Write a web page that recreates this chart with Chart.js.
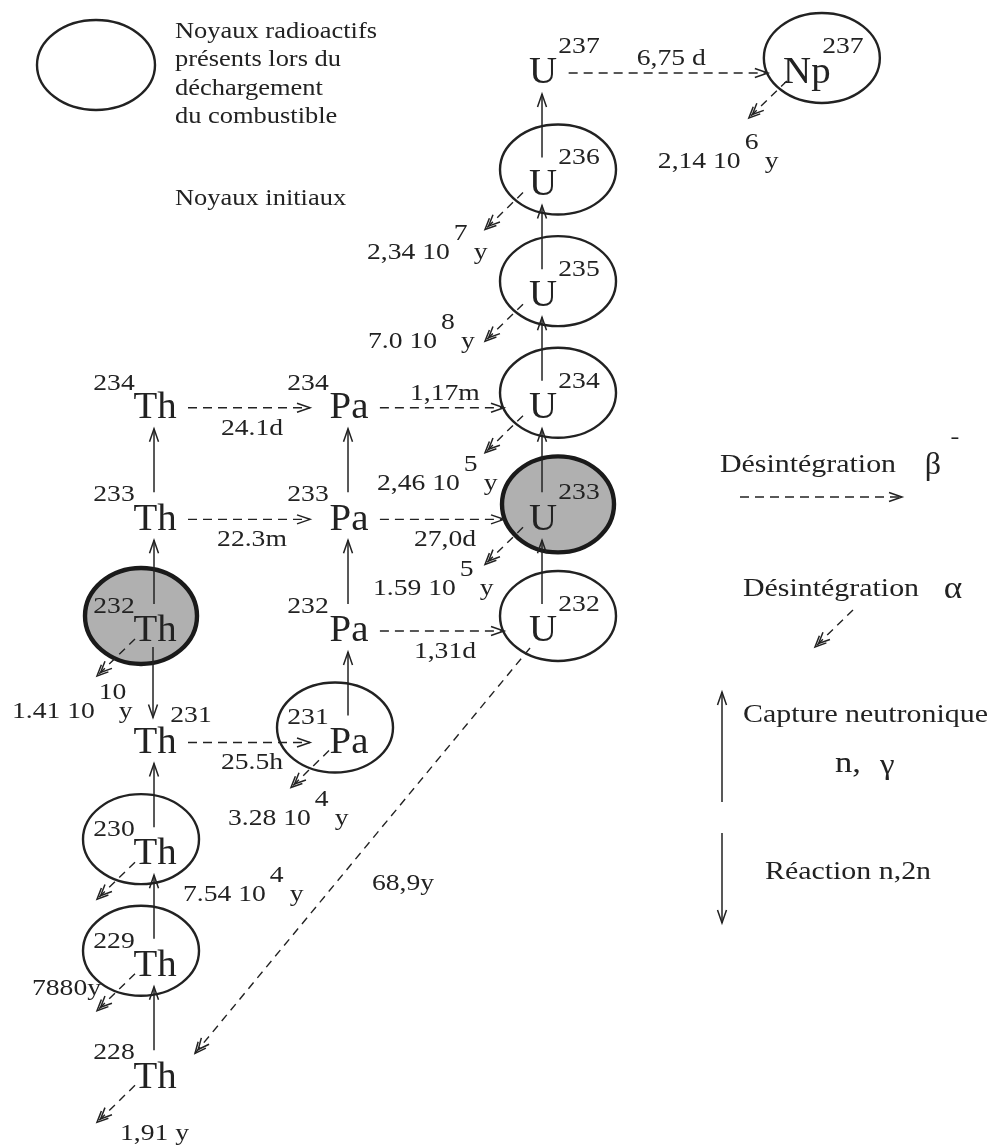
<!DOCTYPE html>
<html>
<head>
<meta charset="utf-8">
<script src="https://cdn.jsdelivr.net/npm/chart.js@4.4.1/dist/chart.umd.min.js"></script>
<style>
  html, body { margin: 0; padding: 0; background: #fff; }
  #wrap { width: 996px; height: 1147px; }
</style>
</head>
<body>
<div id="wrap"><canvas id="chain" width="996" height="1147"></canvas></div>
<script>
// one column per element (Np is drawn off the grid, to the right)
const elements = ['Th', 'Pa', 'U', 'Np'];
const elementColumn = [0, 1, 2, 3.36];

// nuclides in the chain
const nuclideElement = ['Th','Th','Th','Th','Th','Th','Th','Pa','Pa','Pa','Pa','U','U','U','U','U','U','Np'];
const nuclideMass    = [228, 229, 230, 231, 232, 233, 234, 231, 232, 233, 234, 232, 233, 234, 235, 236, 237, 237];

// radioactive nuclei present at fuel discharge (circled), initial nuclei (shaded)
const circled = ['Th229','Th230','Th232','Pa231','U232','U233','U234','U235','U236','Np237'];
const initial = ['Th232','U233'];

// (n,gamma) captures and (n,2n)
const captureFrom = ['Th228','Th229','Th230','Th232','Th233','Pa231','Pa232','Pa233','U232','U233','U234','U235','U236'];
const captureTo   = ['Th229','Th230','Th231','Th233','Th234','Pa232','Pa233','Pa234','U233','U234','U235','U236','U237'];
const n2nFrom = ['Th232'];
const n2nTo   = ['Th231'];

// beta- decays
const betaFrom = ['Th234','Th233','Th231','Pa234','Pa233','Pa232','U237'];
const betaTo   = ['Pa234','Pa233','Pa231','U234','U233','U232','Np237'];
const betaHalfLife = ['24.1d','22.3m','25.5h','1,17m','27,0d','1,31d','6,75 d'];

// alpha decays
const alphaFrom = ['Np237','U236','U235','U234','U233','U232','Th232','Pa231','Th230','Th229','Th228'];
const alphaHalfLife = ['2,14 10^6 y','2,34 10^7 y','7.0 10^8 y','2,46 10^5 y','1.59 10^5 y','68,9y',
                       '1.41 10^10 y','3.28 10^4 y','7.54 10^4 y','7880y','1,91 y'];

// ---- layout ----
const INK = '#222';
const SERIF = '"Liberation Serif", "Times New Roman", serif';
const SX = 1.15;                        // the scanned type is a bit wide
const supRight = ['U', 'Np'];
const supRightExtra = ['Th231'];
const betaLabelAbove = ['Pa234', 'U237'];
const alphaToDaughter = ['U232'];       // only this one is drawn down to its daughter
const alphaLabelOffset = {
  Np237: [-149, 89], U236: [-176, 69], U235: [-175, 46], U234: [-166, 76], U233: [-170, 70],
  U232: [-171, 253], Th232: [-143, 81], Pa231: [-121, 77], Th230: [28, 41], Th229: [-123, 23],
  Th228: [-35, 57]
};

const ids = nuclideElement.map((e, i) => e + nuclideMass[i]);
const colOf = e => elementColumn[elements.indexOf(e)];

function txt(ctx, s, x, y, size, align, sx) {
  sx = sx || 1;
  ctx.save();
  ctx.font = size + 'px ' + SERIF;
  ctx.fillStyle = INK;
  ctx.textAlign = 'left';
  ctx.textBaseline = 'alphabetic';
  const w = ctx.measureText(s).width * sx;
  const left = align === 'center' ? x - w / 2 : (align === 'right' ? x - w : x);
  ctx.translate(left, y + size * 0.33);
  ctx.scale(sx, 1);
  ctx.fillText(s, 0, 0);
  ctx.restore();
  return left + w;
}

function seg(ctx, x1, y1, x2, y2, dash, w) {
  ctx.save();
  ctx.strokeStyle = INK;
  ctx.lineWidth = w || 1.5;
  ctx.setLineDash(dash || []);
  ctx.beginPath();
  ctx.moveTo(x1, y1);
  ctx.lineTo(x2, y2);
  ctx.stroke();
  ctx.restore();
}

function chevron(ctx, x1, y1, x2, y2, len, half, back) {
  const a = Math.atan2(y2 - y1, x2 - x1);
  const tx = x2 - Math.cos(a) * back, ty = y2 - Math.sin(a) * back;
  const bx = tx - Math.cos(a) * len, by = ty - Math.sin(a) * len;
  const nx = -Math.sin(a) * half, ny = Math.cos(a) * half;
  ctx.save();
  ctx.strokeStyle = INK;
  ctx.lineWidth = 1.5;
  ctx.beginPath();
  ctx.moveTo(bx + nx, by + ny);
  ctx.lineTo(tx, ty);
  ctx.lineTo(bx - nx, by - ny);
  ctx.stroke();
  ctx.restore();
}

function solidArrow(ctx, x1, y1, x2, y2) {
  seg(ctx, x1, y1, x2, y2, [], 1.5);
  chevron(ctx, x1, y1, x2, y2, 13, 4.5, 0);
}
function betaArrow(ctx, x1, y1, x2, y2) {
  seg(ctx, x1, y1, x2, y2, [9, 6], 1.4);
  chevron(ctx, x1, y1, x2, y2, 13, 4.5, 0);
}
function alphaArrow(ctx, x1, y1, x2, y2) {
  seg(ctx, x1, y1, x2, y2, [8, 6], 1.4);
  chevron(ctx, x1, y1, x2, y2, 11, 5, 0);
  chevron(ctx, x1, y1, x2, y2, 11, 5, 5);
}

function halfLifeLabel(ctx, s, x, y) {
  const m = s.match(/^(.*10)\^(\d+)\s*(y)$/);
  if (!m) { txt(ctx, s, x, y, 24, 'left', SX); return; }
  const r = txt(ctx, m[1], x, y, 24, 'left', SX);
  txt(ctx, m[2], r + 4, y - 19, 24, 'left', SX);
  txt(ctx, m[3], r + 24, y, 24, 'left', SX);
}

const background = {
  id: 'background',
  beforeDraw(chart) {
    const c = chart.ctx;
    c.save();
    c.fillStyle = '#fff';
    c.fillRect(0, 0, chart.width, chart.height);
    c.restore();
  }
};

const diagram = {
  id: 'diagram',
  afterDatasetsDraw(chart) {
    const ctx = chart.ctx;
    const pts = chart.getDatasetMeta(0).data;
    const P = id => { const el = pts[ids.indexOf(id)]; return { x: el.x, y: el.y }; };
    const elOf = id => nuclideElement[ids.indexOf(id)];
    const right = id => supRight.includes(elOf(id)) || supRightExtra.includes(id);
    ctx.save();
    ctx.font = '36px ' + SERIF;
    const halfW = id => ctx.measureText(elOf(id)).width * 1.05 / 2;
    const widths = {};
    ids.forEach(id => { widths[id] = halfW(id); });
    ctx.restore();

    // circles around nuclides
    circled.forEach(id => {
      const p = P(id);
      const sideRight = supRight.includes(elOf(id));
      const cx = p.x + (sideRight ? 15 : -14), cy = p.y - 13;
      const shaded = initial.includes(id);
      ctx.save();
      ctx.beginPath();
      ctx.ellipse(cx, cy, shaded ? 56 : 58, shaded ? 48 : 45, 0, 0, Math.PI * 2);
      if (shaded) { ctx.fillStyle = '#b0b0b0'; ctx.fill(); }
      ctx.strokeStyle = shaded ? '#1a1a1a' : INK;
      ctx.lineWidth = shaded ? 4.4 : 2.4;
      ctx.stroke();
      ctx.restore();
    });

    // neutron captures
    captureFrom.forEach((f, i) => {
      const a = P(f), b = P(captureTo[i]);
      solidArrow(ctx, a.x - 1, a.y - 25, b.x - 1, b.y + 23);
    });
    n2nFrom.forEach((f, i) => {
      const a = P(f), b = P(n2nTo[i]);
      solidArrow(ctx, a.x - 2, a.y + 18, b.x - 2, b.y - 23);
    });

    // beta decays
    betaFrom.forEach((f, i) => {
      const a = P(f), b = P(betaTo[i]);
      const x1 = a.x + widths[f] + 12, x2 = b.x - 39, y = a.y + 2;
      betaArrow(ctx, x1, y, x2, y);
      const above = betaLabelAbove.includes(f);
      txt(ctx, betaHalfLife[i], (x1 + x2) / 2 + 3, above ? y - 16 : y + 19, 24, 'center', SX);
    });

    // alpha decays
    alphaFrom.forEach((f, i) => {
      const a = P(f);
      if (alphaToDaughter.includes(f)) {
        const z = elements.indexOf(elOf(f));
        const d = P(elements[z - 2] + (nuclideMass[ids.indexOf(f)] - 4));
        alphaArrow(ctx, a.x - 13, a.y + 19, d.x + 40, d.y - 22);
      } else {
        alphaArrow(ctx, a.x - 20, a.y + 10, a.x - 58, a.y + 47);
      }
      const o = alphaLabelOffset[f];
      halfLifeLabel(ctx, alphaHalfLife[i], a.x + o[0], a.y + o[1]);
    });

    // symbols and mass numbers
    ids.forEach((id, i) => {
      const p = P(id);
      txt(ctx, nuclideElement[i], p.x, p.y, 37, 'center', 1.05);
      if (right(id)) txt(ctx, String(nuclideMass[i]), p.x + 36, p.y - 26, 24, 'center', SX);
      else txt(ctx, String(nuclideMass[i]), p.x - 41, p.y - 24, 24, 'center', SX);
    });

    // legend, top left
    ctx.save();
    ctx.beginPath();
    ctx.ellipse(96, 65, 59, 45, 0, 0, Math.PI * 2);
    ctx.strokeStyle = INK;
    ctx.lineWidth = 2.4;
    ctx.stroke();
    ctx.restore();
    ['Noyaux radioactifs', 'présents lors du', 'déchargement', 'du combustible'].forEach((s, k) => {
      txt(ctx, s, 175, 30 + k * 28.5, 23, 'left', SX);
    });
    txt(ctx, 'Noyaux initiaux', 175, 197, 23, 'left', SX);

    // legend, right side
    txt(ctx, 'Désintégration', 720, 463, 26, 'left', SX);
    txt(ctx, 'β', 933, 463, 32, 'center', 1);
    txt(ctx, '-', 955, 436, 22, 'center', 1.2);
    betaArrow(ctx, 740, 497, 902, 497);

    txt(ctx, 'Désintégration', 743, 587, 26, 'left', SX);
    txt(ctx, 'α', 953, 587, 32, 'center', 1.1);
    alphaArrow(ctx, 853, 610, 815, 647);

    solidArrow(ctx, 722, 802, 722, 692);
    txt(ctx, 'Capture neutronique', 743, 713, 26, 'left', SX);
    txt(ctx, 'n,', 835, 762, 30, 'left', SX);
    txt(ctx, 'γ', 880, 764, 30, 'left', 1.1);

    solidArrow(ctx, 722, 833, 722, 923);
    txt(ctx, 'Réaction n,2n', 765, 870, 26, 'left', SX);
  }
};

new Chart(document.getElementById('chain'), {
  type: 'scatter',
  data: {
    datasets: [{
      data: ids.map((id, i) => ({ x: colOf(nuclideElement[i]), y: nuclideMass[i] })),
      pointRadius: 0,
      pointHoverRadius: 0
    }]
  },
  options: {
    responsive: false,
    animation: false,
    devicePixelRatio: 1,
    events: [],
    layout: { padding: 0 },
    plugins: { legend: { display: false }, tooltip: { enabled: false } },
    scales: {
      x: { type: 'linear', min: -0.799, max: 4.335, display: false },
      y: { type: 'linear', min: 227.358, max: 237.636, display: false }
    }
  },
  plugins: [background, diagram]
});
</script>
</body>
</html>
